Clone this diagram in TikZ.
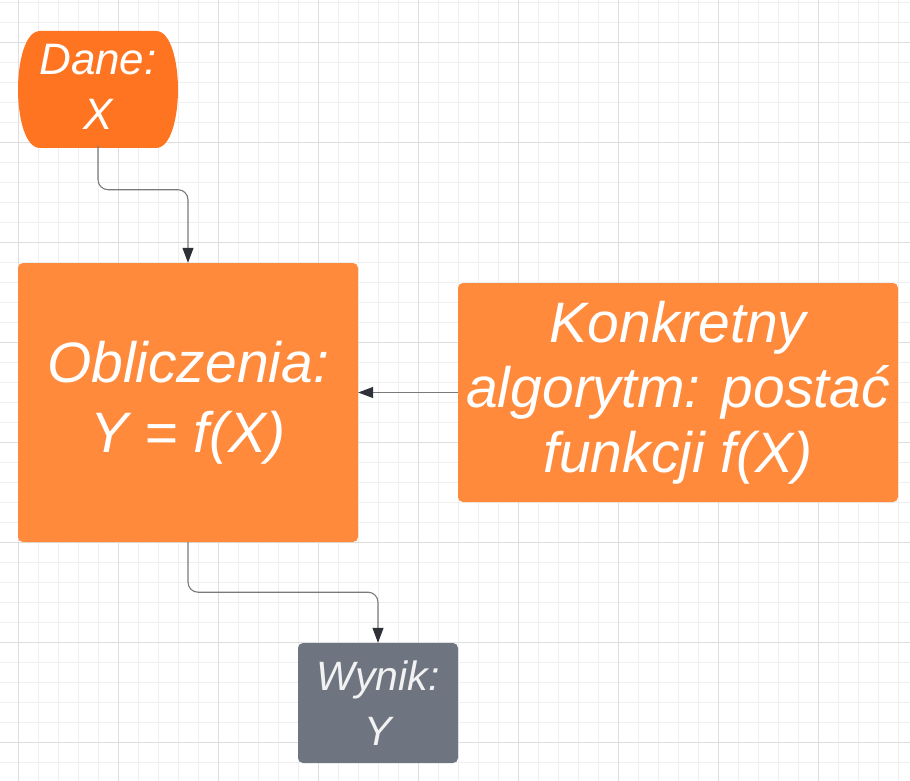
\documentclass[tikz,border=0pt]{standalone}
\usepackage{fontspec}
\setmainfont{Liberation Sans}
\usetikzlibrary{arrows.meta}
\definecolor{gridminor}{HTML}{EFEFEF}
\definecolor{gridmajor}{HTML}{DEDEDE}
\definecolor{daneorange}{HTML}{FF7420}
\definecolor{boxorange}{HTML}{FF8A3B}
\definecolor{wynikgray}{HTML}{6F7481}
\definecolor{linegray}{HTML}{7A7A7A}
\definecolor{tipdark}{HTML}{2E3138}
\definecolor{wyniktext}{HTML}{F2F2F2}
\tikzset{
  bigtext/.style={font=\fontsize{57}{70}\selectfont\itshape, text=white, align=center},
  smalltext/.style={font=\fontsize{41}{55}\selectfont\itshape, text=white, align=center},
  orangebox/.style={fill=boxorange, rounded corners=5pt, inner sep=0pt},
  conn/.style={draw=linegray, line width=1.1pt, rounded corners=10pt,
    -{Triangle[length=15pt,width=11pt,color=tipdark]}},
}
\begin{document}
\begin{tikzpicture}[x=1pt,y=-1pt]
\useasboundingbox (0,0) rectangle (910,781);
\fill[white] (0,0) rectangle (910,781);
% grid
\foreach \gx in {18,38,...,898} \draw[gridminor, line width=0.9pt] (\gx,0) -- (\gx,781);
\foreach \gy in {2,22,...,780} \draw[gridminor, line width=0.9pt] (0,\gy) -- (910,\gy);
\foreach \gx in {18,118,...,818} \draw[gridmajor, line width=0.9pt] (\gx,0) -- (\gx,781);
\foreach \gy in {42,142,...,742} \draw[gridmajor, line width=0.9pt] (0,\gy) -- (910,\gy);
% Dane shape
\fill[daneorange] (40,31) -- (156,31) .. controls (171,31) and (178,62) .. (178,89.5)
  .. controls (178,117) and (171,148) .. (156,148) -- (40,148)
  .. controls (25,148) and (18,117) .. (18,89.5)
  .. controls (18,62) and (25,31) .. (40,31) -- cycle;
\node[smalltext, font=\fontsize{44}{55}\selectfont\itshape, minimum width=160pt,
  minimum height=117pt, inner sep=0pt] (dane) at (98,87) {Dane:\\X};
% boxes
\node[orangebox, bigtext, minimum width=340pt, minimum height=279pt] (oblicz) at (188,402.5) {Obliczenia:\\Y = f(X)};
\node[orangebox, bigtext, minimum width=440pt, minimum height=219pt,
  font=\fontsize{57}{65}\selectfont\itshape] (konk) at (678,392.5) {Konkretny\\algorytm: postać\\funkcji f(X)};
\node[fill=wynikgray, rounded corners=5pt, inner sep=0pt, smalltext, text=wyniktext,
  minimum width=160pt, minimum height=120pt] (wynik) at (378,703) {Wynik:\\Y};
% connectors
\draw[conn] (dane.south) -- ++(0,44) -| (oblicz.north);
\draw[conn, rounded corners=0pt] (konk.west) -- (konk.west -| oblicz.east);
\draw[conn] (oblicz.south) -- ++(0,50) -| (wynik.north);
\end{tikzpicture}
\end{document}
